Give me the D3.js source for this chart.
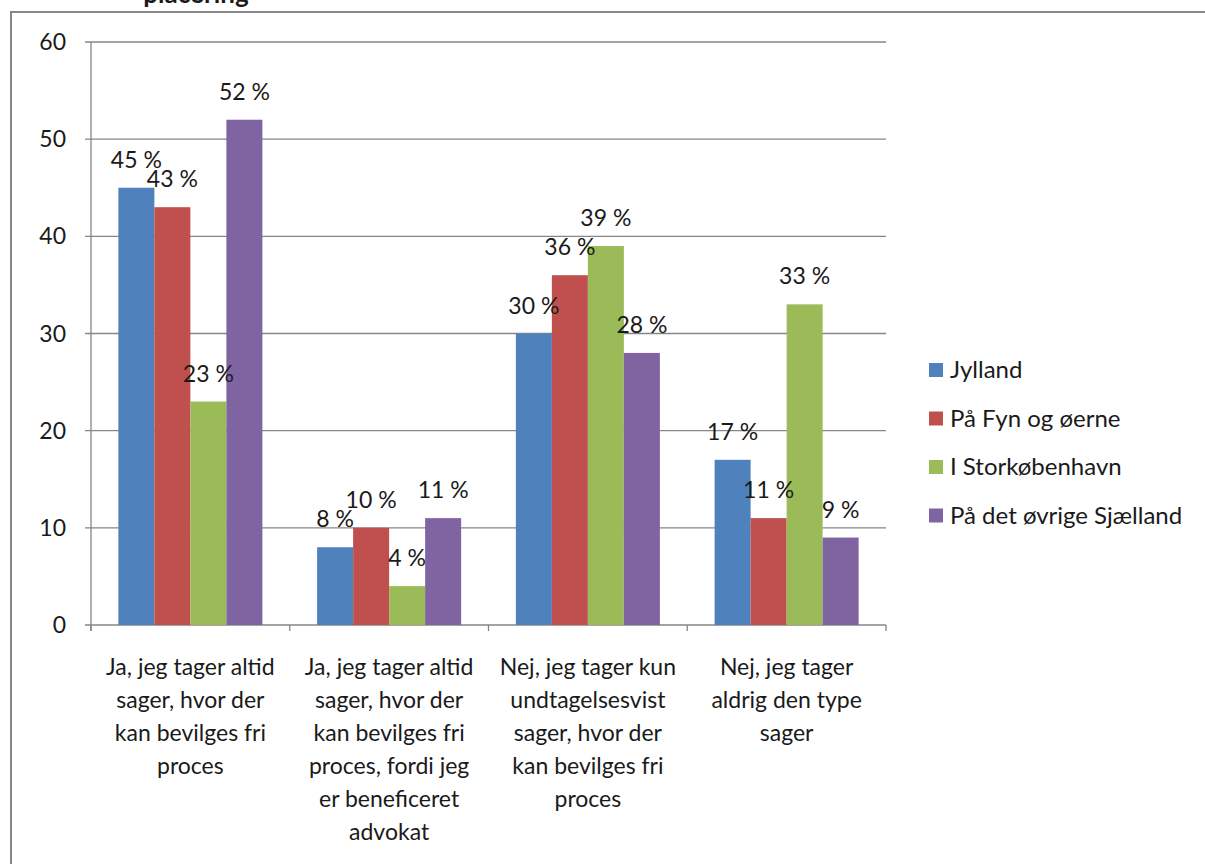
<!DOCTYPE html>
<html><head><meta charset="utf-8">
<script src="https://cdn.jsdelivr.net/npm/d3@7"></script>
<style>body{margin:0;background:#fff;} svg{display:block;} text{font-family:Lato,"Open Sans",sans-serif;fill:#1a1a1a;}</style>
</head><body>
<svg id="c" width="1205" height="864"></svg>
<script>
const categories = [
  ["Ja, jeg tager altid","sager, hvor der","kan bevilges fri","proces"],
  ["Ja, jeg tager altid","sager, hvor der","kan bevilges fri","proces, fordi jeg","er beneficeret","advokat"],
  ["Nej, jeg tager kun","undtagelsesvist","sager, hvor der","kan bevilges fri","proces"],
  ["Nej, jeg tager","aldrig den type","sager"]
];
const seriesNames = ["Jylland","På Fyn og øerne","I Storkøbenhavn","På det øvrige Sjælland"];
const jylland = [45, 8, 30, 17];
const fyn = [43, 10, 36, 11];
const storkbh = [23, 4, 39, 33];
const sjaelland = [52, 11, 28, 9];
const yTicks = [0,10,20,30,40,50,60];
const colors = ["#4F81BD","#C0504D","#9BBB59","#8064A2"];
const series = [jylland, fyn, storkbh, sjaelland];

const svg = d3.select("#c");
svg.append("rect").attr("x",11).attr("y",12).attr("width",1200).attr("height",900)
  .attr("fill","none").attr("stroke","#878787").attr("stroke-width",2);
svg.append("text").attr("x",196).attr("y",3).attr("text-anchor","middle")
  .attr("font-weight","bold").attr("font-size",26).text("placering");

const pL=91, pR=886, pT=42, pB=625;
const x0 = d3.scaleBand().domain(d3.range(categories.length)).range([pL,pR]).paddingInner(0).paddingOuter(0);
const x1 = d3.scaleBand().domain(d3.range(series.length)).range([0,x0.bandwidth()]).paddingInner(0).paddingOuter(0.76);
const y = d3.scaleLinear().domain([0,60]).range([pB,pT]);

svg.append("g").selectAll("line").data(yTicks).join("line")
  .attr("x1",pL-6).attr("x2",pR).attr("y1",d=>y(d)).attr("y2",d=>y(d))
  .attr("stroke","#868686").attr("stroke-width",1.3);
svg.append("g").selectAll("text").data(yTicks).join("text")
  .attr("x",66).attr("y",d=>y(d)+8).attr("text-anchor","end").attr("font-size",23).text(d=>d);
svg.append("line").attr("x1",pL).attr("x2",pL).attr("y1",pT).attr("y2",pB+6)
  .attr("stroke","#868686").attr("stroke-width",1.3);
svg.append("g").selectAll("line").data(d3.range(categories.length+1)).join("line")
  .attr("x1",d=>pL+d*x0.bandwidth()).attr("x2",d=>pL+d*x0.bandwidth())
  .attr("y1",pB).attr("y2",pB+6).attr("stroke","#868686").attr("stroke-width",1.3);

const g = svg.append("g");
series.forEach((s,si)=>{
  g.selectAll(null).data(s).join("rect")
    .attr("x",(d,i)=>x0(i)+x1(si)).attr("width",x1.bandwidth())
    .attr("y",d=>y(d)).attr("height",d=>pB-y(d)).attr("fill",colors[si]);
});
series.forEach((s,si)=>{
  g.selectAll(null).data(s).join("text")
    .attr("x",(d,i)=>x0(i)+x1(si)+x1.bandwidth()/2).attr("y",d=>y(d)-20)
    .attr("text-anchor","middle").attr("font-size",23).text(d=>d+" %");
});

categories.forEach((lines,i)=>{
  const t = svg.append("text").attr("text-anchor","middle").attr("font-size",23);
  lines.forEach((ln,k)=>{
    t.append("tspan").attr("x",x0(i)+x0.bandwidth()/2).attr("y",675+k*33).text(ln);
  });
});

const lg = svg.append("g");
seriesNames.forEach((n,i)=>{
  const cy = 370 + i*48.5;
  lg.append("rect").attr("x",929).attr("y",cy-7).attr("width",14).attr("height",14).attr("fill",colors[i]);
  lg.append("text").attr("x",950).attr("y",cy+8).attr("font-size",24).text(n);
});
</script>
</body></html>
